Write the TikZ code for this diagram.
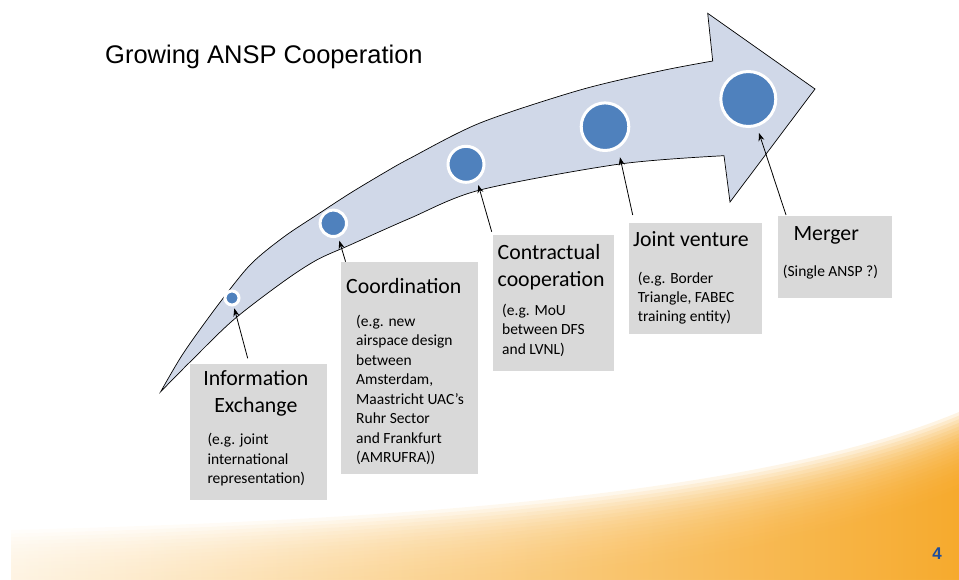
\documentclass[tikz,border=0pt]{standalone}
\usepackage{fontspec}
\setmainfont{Carlito}
\newfontfamily\arialfont{Liberation Sans}
\usetikzlibrary{arrows.meta}
\definecolor{arrowfill}{RGB}{208,216,232}
\definecolor{dotblue}{RGB}{79,129,189}
\definecolor{boxgray}{RGB}{217,217,217}
\definecolor{swoosh}{RGB}{246,166,35}
\definecolor{numblue}{RGB}{31,78,155}

\begin{document}
\begin{tikzpicture}[x=1pt,y=-1pt]
\tikzset{dot/.style={circle,fill=dotblue,draw=white,line width=3pt,inner sep=0pt},
  box/.style={fill=boxgray,anchor=north west,inner sep=0pt},
  head/.style={font=\fontsize{21.8}{27}\selectfont,inner sep=0pt,anchor=base west,align=left},
  note/.style={font=\fontsize{15.5}{19.3}\selectfont,inner sep=0pt,anchor=base west,align=left},
  conn/.style={-{Stealth[length=8pt,width=6pt]},line width=0.8pt}}
\useasboundingbox (0,0) rectangle (959,579);
% orange swoosh at the foot of the slide
\foreach \k in {0,...,21}
  \shade[left color=swoosh!15, middle color=swoosh!45, right color=swoosh, opacity=0.13, yshift=-\k*3.6pt]
    (11,579) -- (11,530) .. controls (400,520) and (760,495) .. (959,412) -- (959,579) -- cycle;
% growing arrow
\filldraw[fill=arrowfill,draw=black,line width=0.7pt]
  plot[smooth] coordinates {(160.7,391.7) (183.3,353.3) (216.7,306.7) (250,265) (283.3,237.3) (316.7,215)
    (350,193.3) (383.3,173.3) (410,158.3) (480,123) (580,90) (660,71) (712.7,61)}
  -- (707.7,13.3) -- (815,89) -- (730,202) -- (724,155.7)
  -- plot[smooth] coordinates {(724,155.7) (620,164) (480,190) (410,218.3) (350,245) (316.7,260)
    (283.3,281.7) (233.3,320) (190,362) (160.7,391.7)} -- cycle;
\node[anchor=base west,inner sep=0pt,font=\arialfont\fontsize{25.5}{30}\selectfont] (title) at (105,63.3) {Growing ANSP Cooperation};
% stages
\node[dot,minimum size=14pt] (c1) at (232,298) {};
\node[dot,minimum size=26.4pt] (c2) at (333.3,223.3) {};
\node[dot,minimum size=36pt] (c3) at (466,164.3) {};
\node[dot,minimum size=47.6pt] (c4) at (605,126.7) {};
\node[dot,minimum size=55pt] (c5) at (748.3,99) {};
\node[box,minimum width=136.7pt,minimum height=135.3pt] (b1) at (190,364) {};
\node[box,minimum width=137pt,minimum height=211.6pt] (b2) at (341,261.7) {};
\node[box,minimum width=121.7pt,minimum height=135.7pt] (b3) at (492.3,235) {};
\node[box,minimum width=133.4pt,minimum height=111pt] (b4) at (628.3,222.7) {};
\node[box,minimum width=114.4pt,minimum height=81.7pt] (b5) at (777.3,216) {};
% multi-line nodes sit on their last baseline
\node[head,anchor=base,align=center] (h1) at (255.8,412.7) {Information\\Exchange};
\node[note] (n1) at (207.3,483.5) {(e.g. joint\\international\\representation)};
\node[head] (h2) at (346,293.3) {Coordination};
\node[note,font=\fontsize{15.5}{19.5}\selectfont] (n2) at (356,462.7) {(e.g. new\\airspace design\\between\\Amsterdam,\\Maastricht UAC’s\\Ruhr Sector\\and Frankfurt\\(AMRUFRA))};
\node[head] (h3) at (497.5,286) {Contractual\\cooperation};
\node[note] (n3) at (502,354) {(e.g. MoU\\between DFS\\and LVNL)};
\node[head] (h4) at (633,246.7) {Joint venture};
\node[note] (n4) at (637.7,321.7) {(e.g. Border\\Triangle, FABEC\\training entity)};
\node[head] (h5) at (793.3,240.7) {Merger};
\node[note] (n5) at (782.7,276) {(Single ANSP ?)};
\coordinate (e1) at (234.3,308.3);
\coordinate (e2) at (339.3,240.7);
\coordinate (e3) at (478.3,185);
\coordinate (e4) at (620,157.3);
\coordinate (e5) at (759,133);
\draw[conn] ([shift={(57.7,-5.7)}]b1.north west) -- (e1);
\draw[conn] ([shift={(4.6,0)}]b2.north west) -- (e2);
\draw[conn] ([shift={(-0.6,-3.3)}]b3.north west) -- (e3);
\draw[conn] ([shift={(4.4,-7.7)}]b4.north west) -- (e4);
\draw[conn] ([shift={(8.7,-1)}]b5.north west) -- (e5);
\node[font=\arialfont\bfseries\fontsize{17}{20}\selectfont,text=numblue,inner sep=0pt] (page) at (937.2,553.3) {4};
\end{tikzpicture}
\end{document}
